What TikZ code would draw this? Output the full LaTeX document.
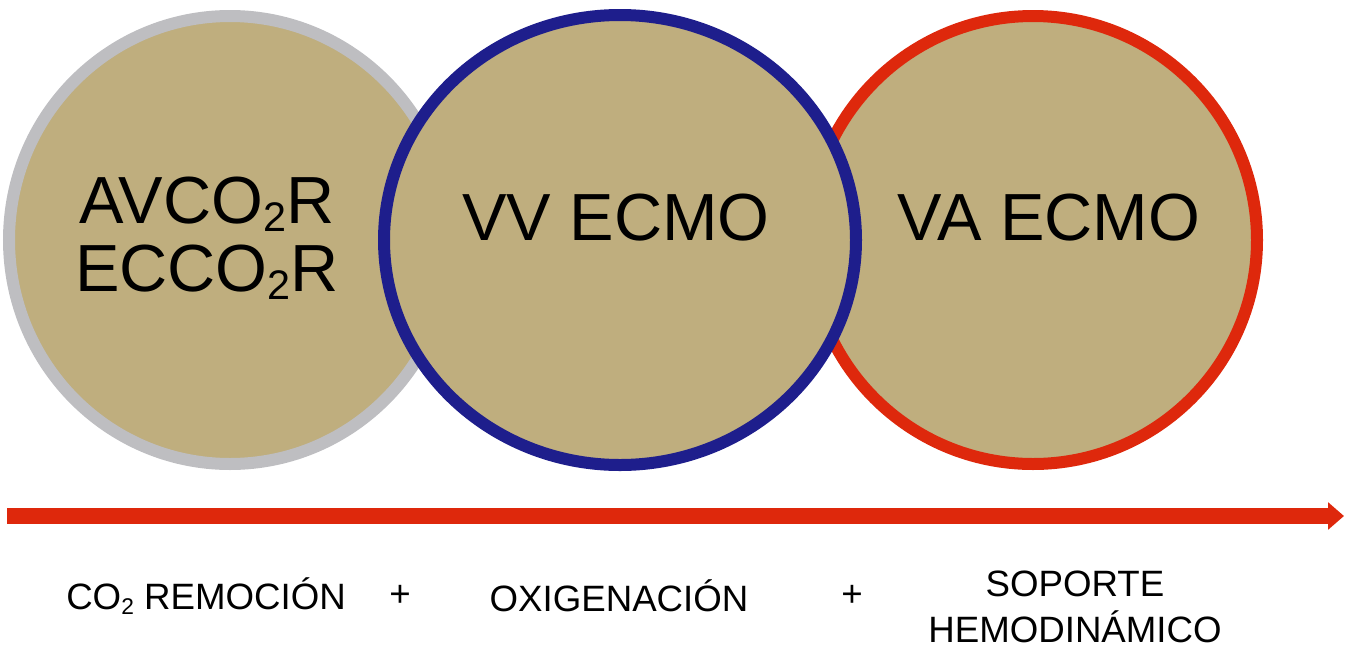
\documentclass[tikz,border=0pt]{standalone}
\usepackage{fontspec}
\setmainfont{Liberation Sans}
\usetikzlibrary{shapes.geometric,arrows.meta}
\definecolor{tan}{RGB}{191,174,126}
\definecolor{ringgray}{RGB}{190,190,193}
\definecolor{ringblue}{RGB}{30,30,140}
\definecolor{ringred}{RGB}{222,40,12}
\newcommand{\lowtwo}{\raisebox{-0.12em}{\scalebox{0.62}{2}}}
\tikzset{
  ring/.style={ellipse, fill=tan, line width=9pt, inner sep=0pt},
  bigtxt/.style={font=\fontsize{50}{51}\selectfont, align=center, inner sep=0pt, text=black},
  smalltxt/.style={font=\fontsize{27.5}{35}\selectfont, align=center, inner sep=0pt, text=black},
}
\begin{document}
\begin{tikzpicture}[x=0.75pt,y=-0.75pt]
\useasboundingbox (0,0) rectangle (1360,661);
% circles
\node[ring, draw=ringgray, minimum width=442*0.75pt, minimum height=448*0.75pt] (gray) at (230,240) {};
\node[ring, draw=ringred, minimum width=448*0.75pt, minimum height=448*0.75pt] (red) at (1033,240) {};
\node[ring, draw=ringblue, minimum width=472*0.75pt, minimum height=450*0.75pt] (blue) at (620,240) {};
% circle texts
\node[bigtxt] (t1) at (207,238) {AVCO\lowtwo R\\ECCO\lowtwo R};
\node[bigtxt] (t2) at (616,218) {VV ECMO};
\node[bigtxt] (t3) at (1049,218) {VA ECMO};
% arrow
\coordinate (as) at (7,516);
\coordinate (ae) at (1344,516);
\draw[ringred, line width=12pt, -{Triangle[length=12pt,width=20pt]}] (as) -- (ae);
% bottom labels
\node[smalltxt] (l1) at (206,596) {CO\lowtwo{} REMOCIÓN};
\node[smalltxt] (p1) at (400,596) {+};
\node[smalltxt] (l2) at (619,596) {OXIGENACIÓN};
\node[smalltxt] (p2) at (852,596) {+};
\node[smalltxt] (l3) at (1075,607) {SOPORTE\\HEMODINÁMICO};
\end{tikzpicture}
\end{document}
